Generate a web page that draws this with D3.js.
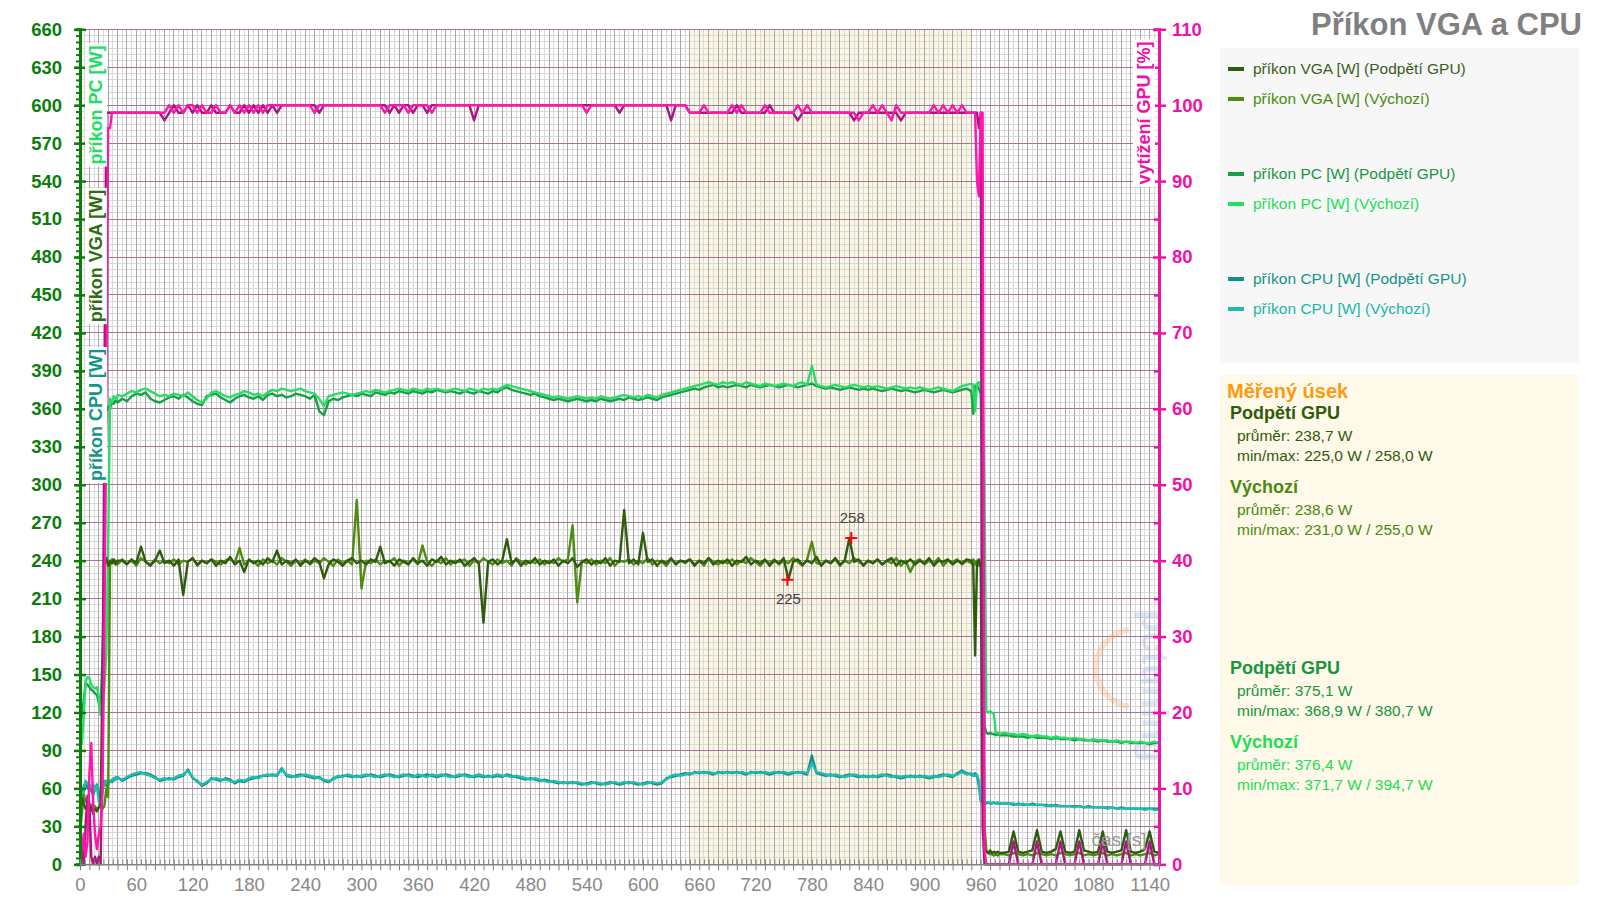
<!DOCTYPE html>
<html><head><meta charset="utf-8">
<script src="https://cdn.jsdelivr.net/npm/d3@7"></script>
<style>body{margin:0;background:#fff;} svg{display:block;font-family:"Liberation Sans",Arial,sans-serif;}</style>
</head><body><svg id="c" width="1599" height="897"></svg>
<script>
// ---------- DATA ----------
// sampling grid: [start, end, step] in seconds
const timeSegments = [[0,40,2],[45,945,5],[950,980,2],[985,1150,5]];
const measuredRange = [650, 950];
const xTicks = [0,60,120,180,240,300,360,420,480,540,600,660,720,780,840,900,960,1020,1080,1140];
const yLeftTicks = [0,30,60,90,120,150,180,210,240,270,300,330,360,390,420,450,480,510,540,570,600,630,660];
const yRightTicks = [0,10,20,30,40,50,60,70,80,90,100,110];

const vgaUndervolt = [
 38,52,48,44,46,42,45,40,44,42,45,46,150,238,242,236,240,238,241,237,240,
 240,237,241,238,251,239,236,240,248,238,
 240,236,241,213,239,242,237,240,238,241,
 236,240,238,243,237,240,231,241,238,240,
 237,242,239,248,237,240,238,241,236,240,
 238,242,239,226,237,241,239,236,240,242,
 238,240,237,241,239,251,238,240,236,241,
 239,237,242,238,240,236,241,239,243,237,
 240,238,241,236,239,242,238,191,239,241,
 237,240,257,238,241,236,240,238,242,237,
 240,238,241,236,240,238,242,235,239,241,
 237,240,238,242,236,240,239,280,238,241,
 237,262,239,241,236,240,238,242,237,240,
 239,241,236,240,238,242,237,240,238,241,
 236,240,239,243,237,240,238,241,236,240,
 238,242,225,239,241,237,240,238,243,236,
 240,238,242,237,240,258,239,241,236,240,
 238,241,237,240,242,236,240,238,241,237,
 240,238,242,236,240,239,241,237,240,238,
 241,
 240,236,165,238,241,235,60,12,10,9,11,9,10,9,10,9,
 9,10,26,10,9,10,11,27,10,9,10,12,26,10,9,10,27,11,10,9,10,26,10,9,10,11,27,10,9,10,12,26,10,9
];
const vgaDefault = [
 25,40,55,50,48,45,47,44,46,43,45,47,44,46,60,53,236,241,238,240,237,
 241,238,240,236,242,239,237,241,238,240,
 238,241,237,240,239,242,236,240,238,241,
 239,237,240,242,238,250,237,240,239,236,
 241,238,240,237,242,239,236,240,238,241,
 237,240,238,242,239,236,241,238,240,237,
 288,218,240,238,241,237,240,239,242,236,
 240,238,241,237,252,239,236,240,238,242,
 237,240,239,241,236,240,238,242,239,237,
 241,238,240,236,242,239,237,240,238,241,
 237,240,238,242,239,241,268,207,240,238,
 241,237,240,238,242,236,240,239,241,237,
 240,238,242,237,240,239,236,241,238,240,
 238,241,237,240,236,242,239,237,240,238,
 241,237,240,238,242,239,236,240,238,241,
 237,240,238,242,239,236,241,255,238,237,
 240,238,241,236,240,238,242,239,237,240,
 238,241,237,240,238,242,236,240,231,239,
 241,237,240,238,242,236,240,239,241,237,
 240,
 238,241,237,240,236,239,200,30,11,9,8,8,7,8,7,8,
 8,7,9,8,7,8,7,9,8,7,8,7,9,8,7,8,9,7,8,7,8,9,7,8,7,8,9,7,8,7,8,9,7,8
];
const pcUndervolt = [
 112,116,130,143,142,140,138,137,135,134,128,122,165,260,358,362,360,366,364,367,365,
 368,366,370,372,371,373,368,366,365,367,
 369,370,368,371,369,366,364,363,370,371,
 372,369,367,365,368,370,371,369,368,370,
 367,371,372,370,371,369,370,372,371,370,
 368,371,358,355,366,368,367,369,370,371,
 370,372,371,370,373,372,371,373,372,374,
 373,372,374,373,372,374,373,375,374,373,
 374,373,372,374,373,372,374,373,372,374,
 373,376,377,375,374,373,372,371,372,370,
 369,368,367,368,367,366,367,368,367,366,
 367,366,368,367,366,367,368,367,369,368,
 367,368,369,368,367,369,370,371,372,373,
 374,375,376,375,377,378,379,377,378,377,
 378,379,378,377,379,378,377,378,379,378,
 377,378,379,378,377,378,379,380,378,377,
 376,377,376,375,376,377,376,375,376,375,
 376,375,374,375,376,375,374,375,374,373,
 374,375,374,373,374,375,374,373,374,375,
 376,
 374,356,378,379,376,372,300,110,104,103,104,103,103,102,103,102,
 102,102,101,101,101,100,101,100,100,100,99,100,99,99,99,98,99,98,98,98,97,98,97,97,97,96,97,96,96,96,96,95,96,96
];
const pcDefault = [
 95,95,118,145,148,147,142,140,139,140,133,118,125,140,165,250,368,365,370,368,371,
 370,372,374,373,375,376,374,372,370,371,
 370,372,371,370,373,370,367,365,368,373,
 374,372,370,369,371,372,374,373,371,372,
 370,373,375,374,376,375,374,375,376,374,
 373,372,368,362,370,371,372,373,372,371,
 372,373,374,373,375,374,373,374,375,376,
 375,374,376,375,374,376,375,376,375,374,
 375,376,375,374,376,375,374,376,375,376,
 375,377,379,378,377,376,375,374,373,372,
 371,370,369,370,369,368,369,370,369,368,
 369,368,370,369,368,369,370,371,370,369,
 370,369,371,370,369,371,372,373,374,375,
 376,377,378,379,380,381,380,379,381,380,
 381,380,379,381,380,379,378,380,379,378,
 379,380,379,378,380,381,379,394,379,378,
 377,378,379,378,377,378,379,378,377,378,
 377,378,377,376,377,378,377,376,377,376,
 377,376,375,376,377,376,375,374,376,378,
 379,
 380,379,358,380,381,378,376,300,121,120,121,120,119,104,104,103,
 104,103,103,102,103,102,101,102,101,101,100,101,100,100,99,100,99,99,98,99,98,98,98,97,98,97,97,97,96,97,96,96,97,96
];
const cpuUndervolt = [
 44,46,62,64,60,63,58,55,60,63,57,48,60,66,62,64,66,65,68,67,69,
 66,68,70,71,72,72,71,69,66,67,
 68,67,69,70,75,68,66,62,64,68,
 67,66,68,67,64,66,65,67,68,69,
 70,70,71,70,76,70,69,70,71,70,
 69,68,69,66,65,68,69,70,70,69,
 70,69,70,71,70,69,70,71,70,69,
 70,71,70,69,70,71,70,69,70,71,
 70,69,70,71,70,69,70,69,70,69,
 70,69,71,70,69,68,67,68,67,66,
 67,66,65,64,65,64,65,64,63,64,
 65,64,63,64,65,64,63,64,65,64,
 63,64,65,64,63,64,68,69,70,71,
 72,71,73,72,73,72,71,73,72,73,
 72,73,72,71,73,72,73,72,71,72,
 73,72,71,72,73,72,71,86,72,71,
 70,71,70,69,70,71,70,69,70,69,
 70,69,70,71,70,69,68,69,70,69,
 70,69,68,69,70,71,70,69,72,74,
 72,
 71,70,72,70,62,50,49,49,48,49,48,48,49,48,48,48,
 48,48,47,48,47,47,48,47,47,47,46,47,46,46,46,46,46,45,46,45,45,45,45,45,44,45,44,44,44,44,44,44,44,44
];
const cpuDefault = [
 42,52,58,66,64,62,61,63,58,62,50,46,58,64,66,63,65,67,66,69,68,
 67,69,71,72,73,71,70,68,67,68,
 67,68,70,71,74,69,65,63,65,67,
 68,67,67,66,65,67,66,68,69,68,
 70,71,70,71,75,71,70,69,70,71,
 70,69,68,67,66,67,70,69,71,70,
 69,70,71,70,69,70,71,70,69,70,
 71,70,69,71,70,69,71,70,71,70,
 69,70,71,70,69,70,71,70,69,70,
 71,70,70,69,70,69,68,67,68,67,
 66,65,66,65,64,65,64,65,64,63,
 64,65,64,63,64,65,64,65,64,65,
 64,63,64,65,64,65,67,70,71,70,
 71,72,72,73,72,73,72,72,73,72,
 73,72,73,72,72,73,72,73,72,73,
 72,73,72,73,72,73,72,80,73,72,
 71,70,71,70,69,70,71,70,69,70,
 69,70,71,70,69,70,69,70,69,70,
 69,70,69,70,69,70,71,70,71,73,
 71,
 72,71,70,71,66,51,50,49,49,49,49,48,49,48,49,48,
 48,48,48,47,48,47,47,47,47,46,47,46,46,46,46,45,46,45,45,45,45,45,44,45,44,44,44,44,44,44,43,44,43,43
];
const loadUndervolt = [
 0,2,0,5,9,8,1,0,1,0,1,0,17,60,99,99,99,99,99,99,99,
 99,99,99,99,99,99,99,99,99,98,
 99,100,99,99,100,99,100,99,99,100,
 99,99,99,100,99,99,100,99,100,99,
 100,99,100,99,100,100,100,100,100,100,
 100,100,99,100,100,100,100,100,100,100,
 100,100,100,100,100,100,100,99,100,99,
 100,100,99,100,100,99,100,100,100,100,
 100,100,100,100,100,98,100,100,100,100,
 100,100,100,100,100,100,100,100,100,100,
 100,100,100,100,100,100,100,100,100,100,
 100,100,100,100,100,100,99,100,100,100,
 100,100,100,100,100,100,100,98,100,100,
 100,99,99,99,99,99,99,99,99,99,
 99,100,99,99,99,99,99,99,100,99,
 99,99,99,99,98,99,99,99,99,99,
 99,99,99,99,99,99,98,99,99,99,
 99,99,99,99,99,99,98,99,99,99,
 99,99,99,99,99,99,99,99,99,99,
 99,
 99,99,99,99,97,99,5,0,0,0,0,0,0,0,0,0,
 0,0,3,0,0,0,0,3,0,0,0,0,3,0,0,0,3,0,0,0,0,3,0,0,0,0,3,0,0,0,0,3,0,0
];
const loadDefault = [
 0,2,4,1,3,12,16,8,4,2,4,5,10,30,60,97,97,99,99,99,99,
 99,99,99,99,99,99,99,99,99,99,
 100,99,100,99,100,100,99,100,99,99,
 100,99,99,100,99,100,99,100,99,100,
 99,100,100,100,100,100,100,100,100,100,
 100,99,100,100,100,100,100,100,100,100,
 100,100,100,100,100,100,99,100,100,100,
 100,99,100,100,100,100,99,100,100,100,
 100,100,100,100,100,100,100,100,100,100,
 100,100,100,100,100,100,100,100,100,100,
 100,100,100,100,100,100,100,100,100,99,
 100,100,100,100,100,100,100,100,100,100,
 100,100,100,100,100,100,100,100,100,100,
 100,99,99,99,100,99,99,99,99,99,
 100,99,100,99,99,99,99,100,99,99,
 99,99,99,99,100,99,100,99,99,99,
 99,99,99,99,99,99,99,98,99,99,
 100,99,100,99,98,100,99,99,99,99,
 99,99,99,100,99,100,99,100,99,100,
 99,
 99,99,99,90,88,99,99,2,0,0,0,0,0,0,0,0,
 0,0,0,0,0,0,0,0,0,0,0,0,0,0,0,0,0,0,0,0,0,0,0,0,0,0,0,0,0,0,0,0,0,0
];
const legendLabels = ["příkon VGA [W] (Podpětí GPU)","příkon VGA [W] (Výchozí)","příkon PC [W] (Podpětí GPU)","příkon PC [W] (Výchozí)","příkon CPU [W] (Podpětí GPU)","příkon CPU [W] (Výchozí)"];
const statsVga = {under:["průměr: 238,7 W","min/max: 225,0 W / 258,0 W"], def:["průměr: 238,6 W","min/max: 231,0 W / 255,0 W"]};
const statsPc = {under:["průměr: 375,1 W","min/max: 368,9 W / 380,7 W"], def:["průměr: 376,4 W","min/max: 371,7 W / 394,7 W"]};
const markers = [{t:822, v:258, label:"258", dy:-15}, {t:754, v:225, label:"225", dy:24}];

// ---------- BUILD ----------
const time = timeSegments.flatMap(([a,b,s]) => d3.range(a, b + s/2, s));
[vgaUndervolt,vgaDefault,pcUndervolt,pcDefault,cpuUndervolt,cpuDefault,loadUndervolt,loadDefault].forEach((s,i)=>{
  if (s.length !== time.length) throw new Error("series "+i+" length "+s.length+" vs "+time.length);
});

const C = {
  vgaU:"#2F5B0D", vgaD:"#4E8B12", pcU:"#16A048", pcD:"#28DD66", cpuU:"#12908A", cpuD:"#1FBDB0",
  loadU:"#A8167E", loadD:"#FF16AD", leftAxis:"#0B7D0B", rightAxis:"#EE12A8"
};

const svg = d3.select("#c");
const L = 80, R = 1159, T = 29.3, B = 864.3;
const x = d3.scaleLinear().domain([0,1150]).range([L,R]);
const yL = d3.scaleLinear().domain([0,660]).range([B,T]);
const yR = d3.scaleLinear().domain([0,110]).range([B,T]);

// measured zone
svg.append("rect").attr("x",x(measuredRange[0])).attr("y",T).attr("width",x(measuredRange[1])-x(measuredRange[0])).attr("height",B-T).attr("fill","#FBF7E3");

// grid
const grid = svg.append("g").attr("shape-rendering","crispEdges");
d3.range(5,1151,10).forEach(t=>grid.append("line").attr("x1",x(t)).attr("x2",x(t)).attr("y1",T).attr("y2",B).attr("stroke","#D9D9D9").attr("stroke-width",1));
d3.range(0,661,5).filter(v=>v%30!==0).forEach(v=>grid.append("line").attr("x1",L).attr("x2",R).attr("y1",yL(v)).attr("y2",yL(v)).attr("stroke","#D9D9D9").attr("stroke-width",1));
d3.range(10,1151,10).forEach(t=>grid.append("line").attr("x1",x(t)).attr("x2",x(t)).attr("y1",T).attr("y2",B).attr("stroke","#ABA6A9").attr("stroke-width",1));
d3.range(30,661,30).forEach(v=>grid.append("line").attr("x1",L).attr("x2",R).attr("y1",yL(v)).attr("y2",yL(v)).attr("stroke","#A8739A").attr("stroke-width",1));
grid.append("line").attr("x1",L).attr("x2",R).attr("y1",T).attr("y2",T).attr("stroke","#A8739A");

// watermark
const wm = svg.append("g").attr("opacity",0.3);
wm.append("path").attr("d",d3.arc()({innerRadius:36,outerRadius:42,startAngle:Math.PI*1.05,endAngle:Math.PI*1.95})).attr("transform","translate(1135,668)").attr("fill","#F4A070");
wm.append("text").attr("transform","translate(1142,610) rotate(90)").attr("font-size",36).attr("font-weight","bold").attr("fill","#8FB0E0").text("pctuning");

// lines
const mk = (arr, yS) => d3.line().x((d,i)=>x(time[i])).y(d=>yS(d))(arr);
const series = [
  [pcUndervolt,yL,C.pcU],[pcDefault,yL,C.pcD],
  [cpuUndervolt,yL,C.cpuU],[cpuDefault,yL,C.cpuD],
  [vgaDefault,yL,C.vgaD],[vgaUndervolt,yL,C.vgaU],
  [loadUndervolt,yR,C.loadU],[loadDefault,yR,C.loadD]
];
series.forEach(([arr,yS,col])=>svg.append("path").attr("d",mk(arr,yS)).attr("fill","none").attr("stroke",col).attr("stroke-width",2.4).attr("stroke-linejoin","round"));

// markers
markers.forEach(m=>{
  const px=x(m.t), py=yL(m.v);
  svg.append("path").attr("d",`M${px-6},${py}H${px+6}M${px},${py-6}V${py+6}`).attr("stroke","#FF0000").attr("stroke-width",2);
  svg.append("text").attr("x",px+1).attr("y",py+m.dy).attr("text-anchor","middle").attr("font-size",15).attr("fill","#444").text(m.label);
});

// left axis
const la = svg.append("g").attr("transform",`translate(${L},0)`);
la.call(d3.axisLeft(yL).tickValues(d3.range(0,661,5)).tickSize(4).tickFormat(""));
la.call(g=>g.selectAll("line").attr("stroke",C.leftAxis).attr("stroke-width",2));
la.select(".domain").attr("stroke",C.leftAxis).attr("stroke-width",3);
const la2 = svg.append("g").attr("transform",`translate(${L+6},0)`);
la2.call(d3.axisLeft(yL).tickValues(yLeftTicks).tickSize(12).tickPadding(12));
la2.select(".domain").remove();
la2.selectAll("line").attr("stroke",C.leftAxis).attr("stroke-width",2.5);
la2.selectAll("text").attr("fill",C.leftAxis).attr("font-size",18.5).attr("font-weight","bold").attr("font-family","Liberation Sans, Arial");

// right axis
const ra = svg.append("g").attr("transform",`translate(${R},0)`);
ra.call(d3.axisLeft(yR).tickValues(d3.range(5,111,10)).tickSize(5).tickFormat(""));
ra.selectAll("line").attr("stroke",C.rightAxis).attr("stroke-width",2.5);
ra.select(".domain").attr("stroke",C.rightAxis).attr("stroke-width",3);
const ra2 = svg.append("g").attr("transform",`translate(${R-6},0)`);
ra2.call(d3.axisRight(yR).tickValues(yRightTicks).tickSize(13).tickPadding(6));
ra2.select(".domain").remove();
ra2.selectAll("line").attr("stroke",C.rightAxis).attr("stroke-width",2.5);
ra2.selectAll("text").attr("fill",C.rightAxis).attr("font-size",18.5).attr("font-weight","bold").attr("font-family","Liberation Sans, Arial");

// bottom axis
const ba = svg.append("g").attr("transform",`translate(0,${B})`);
ba.call(d3.axisTop(x).tickValues(d3.range(0,1151,5)).tickSize(5).tickFormat(""));
ba.selectAll("line").attr("stroke","#808080");
ba.select(".domain").attr("stroke","#808080").attr("stroke-width",1.5);
const ba2 = svg.append("g").attr("transform",`translate(0,${B})`);
ba2.call(d3.axisBottom(x).tickValues(d3.range(0,1151,10)).tickSize(6).tickFormat(""));
ba2.select(".domain").remove();
ba2.selectAll("line").attr("stroke","#808080");
const ba3 = svg.append("g").attr("transform",`translate(0,${B})`);
ba3.call(d3.axisBottom(x).tickValues(xTicks).tickSize(0).tickPadding(14).tickFormat(d3.format("d")));
ba3.select(".domain").remove();
ba3.selectAll("text").attr("fill","#888").attr("font-size",18.5).attr("font-family","Liberation Sans, Arial");

// axis titles
function vtitle(txt, cx, cy, col){
  const t = svg.append("text").attr("transform",`translate(${cx},${cy}) rotate(-90)`).attr("text-anchor","middle").attr("dy","0.35em").attr("font-size",18).attr("font-weight","bold").attr("fill",col).text(txt);
  const bb = t.node().getBBox();
  svg.insert("rect", () => t.node()).attr("x",cx-11).attr("y",cy-bb.width/2-2).attr("width",22).attr("height",bb.width+4).attr("fill","#fff");
}
vtitle("příkon PC [W]", 96, 105, "#22DD66");
vtitle("příkon VGA [W]", 96, 256, "#2E6E12");
vtitle("příkon CPU [W]", 96, 415, "#12958A");
vtitle("vytížení GPU [%]", 1144, 113, "#EE12A8");
svg.append("text").attr("x",1119).attr("y",846).attr("text-anchor","middle").attr("font-size",19).attr("fill","#999").text("čas [s]");

// title
svg.append("text").attr("x",1582).attr("y",35).attr("text-anchor","end").attr("font-size",31).attr("font-weight","bold").attr("fill","#808080").text("Příkon VGA a CPU");

// legend
svg.append("rect").attr("x",1220).attr("y",48).attr("width",359).attr("height",315).attr("fill","#F7F7F7");
const legCols = [C.vgaU, C.vgaD, C.pcU, C.pcD, C.cpuU, C.cpuD];
const legTxtCols = ["#3A5E1A","#4A8A10","#17963F","#22DD55","#119488","#1CB5AA"];
const legY = [69,99,174,204,279,309];
legendLabels.forEach((l,i)=>{
  svg.append("rect").attr("x",1228).attr("y",legY[i]-2).attr("width",16).attr("height",4).attr("fill",legCols[i]);
  svg.append("text").attr("x",1253).attr("y",legY[i]+5).attr("font-size",15.5).attr("fill",legTxtCols[i]).text(l);
});

// stats panel
svg.append("rect").attr("x",1220).attr("y",375).attr("width",359).attr("height",510).attr("fill","#FEF9E8");
svg.append("text").attr("x",1227).attr("y",398).attr("font-size",20).attr("font-weight","bold").attr("fill","#FF9A10").text("Měřený úsek");
function block(y, head, lines, col){
  svg.append("text").attr("x",1230).attr("y",y).attr("font-size",18).attr("font-weight","bold").attr("fill",col).text(head);
  lines.forEach((l,i)=>svg.append("text").attr("x",1237).attr("y",y+22+i*20).attr("font-size",15.5).attr("fill",col).text(l));
}
block(419,"Podpětí GPU",statsVga.under,"#2F5B0D");
block(493,"Výchozí",statsVga.def,"#4A8A10");
block(674,"Podpětí GPU",statsPc.under,"#17963F");
block(748,"Výchozí",statsPc.def,"#22DD55");
</script></body></html>
